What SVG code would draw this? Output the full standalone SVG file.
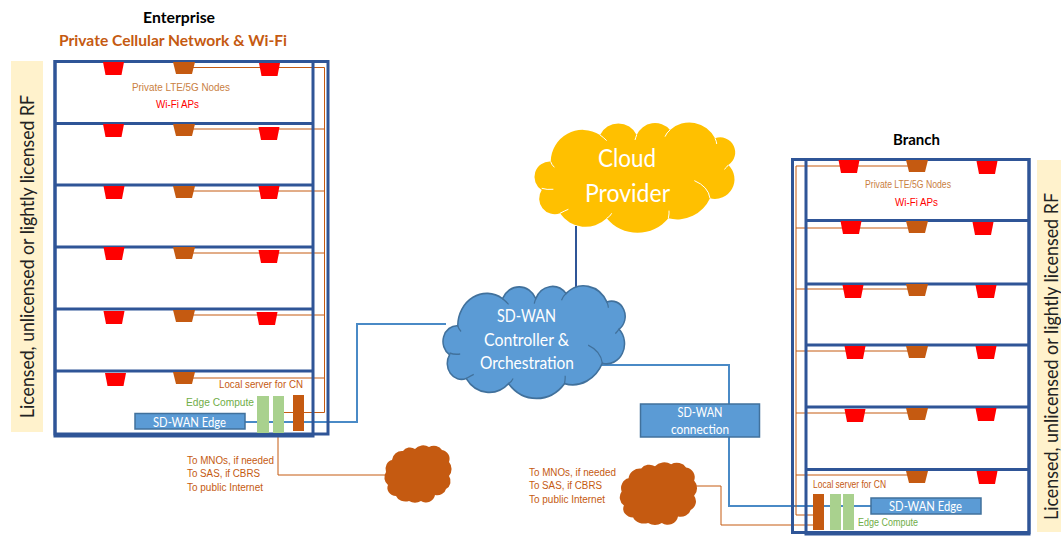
<svg xmlns="http://www.w3.org/2000/svg" width="1061" height="539" viewBox="0 0 1061 539">
<style>
.b{fill:none;stroke:#2f5597;stroke-width:3}
.o{fill:none;stroke:#c55a11;stroke-width:1}
.l{fill:none;stroke:#4a8ac6;stroke-width:2}
.band{fill:#fff2cc}
.box{fill:#5b9bd5;stroke:#41719c;stroke-width:1.5}
.g{fill:#a9d18e}
.srv{fill:#c55a11}
.cal{font-family:"Lato","Open Sans",sans-serif}
.ar{font-family:"Liberation Sans",Arial,sans-serif;font-size:10px}
.or{fill:#c55a11}
.lt{fill:#c9803f}
.rd{fill:#ff0000}
.gr{fill:#70ad47}
.w{fill:#fff}
.rot{font-size:19px;fill:#222}
.c{text-anchor:middle}
</style>
<defs>
<polygon id="tr" class="rd" points="-10.500,0 10.500,0 8,13 -8,13"/>
<polygon id="to" class="or" points="-11,0 11,0 8,12 -8,12"/>
<path id="cloud" d="M57,115 A96,96 0 0 1 205,35 A61,61 0 0 1 315,35 A60,60 0 0 1 415,20 A86,86 0 0 1 550,45 A45,45 0 0 1 590,125 A59,59 0 0 1 535,225 A108,108 0 0 1 410,285 A120,120 0 0 1 225,285 A92,92 0 0 1 85,270 A47,47 0 0 1 30,200 A46,46 0 0 1 57,115 Z"/>
<path id="cloudin" fill="none" d="M30,195 Q45,200 65,198 M57,115 Q60,125 68,132 M205,35 Q215,42 225,52 M315,35 Q312,42 310,50 M415,20 Q405,28 400,40 M550,45 Q555,55 555,62 M590,125 Q585,132 578,138 M488,172 Q530,190 535,225 M410,285 Q413,270 412,262 M225,285 Q235,280 240,270 M85,270 Q100,262 110,258"/>
<path id="blob" d="M30,4 A10,9 0 0 1 44,2 A9,8 0 0 1 57,5 A9,9 0 0 1 64,17 A9,10 0 0 1 64,31 A9,9 0 0 1 61,44 A9,8 0 0 1 50,50 A9,9 0 0 1 36,56 A10,8 0 0 1 24,56 A10,8 0 0 1 11,51 A9,8 0 0 1 3,40 A8,9 0 0 1 1,27 A8,9 0 0 1 7,15 A10,10 0 0 1 18,6 A8,7 0 0 1 30,4 Z"/>
</defs>

<g id="band-left"><rect class="band" x="11" y="61" width="32" height="371"/>
<text class="cal rot c" transform="translate(34,256.500) rotate(-90)" textLength="323" lengthAdjust="spacingAndGlyphs">Licensed, unlicensed or lightly licensed RF</text></g>
<g id="band-right"><rect class="band" x="1037" y="160" width="24" height="372"/>
<text class="cal rot c" transform="translate(1058,356.500) rotate(-90)" textLength="327" lengthAdjust="spacingAndGlyphs">Licensed, unlicensed or lightly licensed RF</text></g>

<g id="connectors">
<path class="o" d="M190,67.500H324.500V412.500H284M190,129H324.500M190,191H324.500M190,253H324.500M190,315H324.500M190,378H324.500"/>
<path class="o" d="M278,431V475H386"/>
<path class="l" d="M245,422H357V324H446"/>
<path d="M576,226V290" fill="none" stroke="#2f5597" stroke-width="2"/>
<path class="l" d="M600,365H729V506H871"/>
<path class="o" d="M917,166H796V515H813M917,228H796M917,289H796M917,351H796M917,413H796M917,475H796"/>
<path class="o" d="M695,486H721V525H813"/>
</g>

<g id="enterprise">
<text class="cal c" x="179" y="23" font-size="16" font-weight="700" fill="#000" textLength="72" lengthAdjust="spacingAndGlyphs">Enterprise</text>
<text class="cal c or" x="173" y="46" font-size="16" font-weight="700" textLength="228" lengthAdjust="spacingAndGlyphs">Private Cellular Network &amp; Wi-Fi</text>
<rect class="b" x="55" y="61.500" width="273" height="372.500"/>
<rect class="b" x="55" y="61.500" width="258" height="374.500"/>
<path class="b" d="M55,123.500H313M55,185H313M55,247H313M55,309H313M55,371H313"/>
<use href="#tr" x="113.500" y="62"/><use href="#to" x="184" y="62"/><use href="#tr" x="269.500" y="63"/>
<use href="#tr" x="113.500" y="124"/><use href="#to" x="184" y="124"/><use href="#tr" x="269" y="127"/>
<use href="#tr" x="114" y="186"/><use href="#to" x="184" y="186"/><use href="#tr" x="269" y="186"/>
<use href="#tr" x="114" y="247"/><use href="#to" x="184" y="247"/><use href="#tr" x="269" y="250"/>
<use href="#tr" x="114" y="311"/><use href="#to" x="184" y="310"/><use href="#tr" x="267" y="312"/>
<use href="#tr" x="115.500" y="373"/><use href="#to" x="184" y="372"/>
<text class="ar lt" x="132" y="91" textLength="98" lengthAdjust="spacingAndGlyphs">Private LTE/5G Nodes</text>
<text class="ar rd" x="156" y="108" textLength="43" lengthAdjust="spacingAndGlyphs">Wi-Fi APs</text>
<text class="ar or" x="219" y="388" textLength="84" lengthAdjust="spacingAndGlyphs">Local server for CN</text>
<text class="ar gr" x="186" y="406" font-size="11" textLength="68" lengthAdjust="spacingAndGlyphs">Edge Compute</text>
<rect class="g" x="257" y="396" width="12" height="37"/>
<rect class="g" x="273" y="396" width="11" height="37"/>
<rect class="srv" x="293" y="395" width="11" height="36"/>
<rect class="box" x="135" y="413.500" width="110" height="15.500"/>
<text class="cal w c" x="189.500" y="427" font-size="13" textLength="73" lengthAdjust="spacingAndGlyphs">SD-WAN Edge</text>
<text class="ar or" x="187" y="464" font-size="11" textLength="87" lengthAdjust="spacingAndGlyphs">To MNOs, if needed</text>
<text class="ar or" x="187" y="477" font-size="11" textLength="73" lengthAdjust="spacingAndGlyphs">To SAS, if CBRS</text>
<text class="ar or" x="187" y="491" font-size="11" textLength="76" lengthAdjust="spacingAndGlyphs">To public Internet</text>
</g>

<g id="branch">
<text class="cal c" x="916.500" y="145" font-size="16" font-weight="700" fill="#000" textLength="47" lengthAdjust="spacingAndGlyphs">Branch</text>
<rect class="b" x="792.500" y="159.500" width="236.500" height="373"/>
<rect class="b" x="806" y="159.500" width="223" height="374.500"/>
<path class="b" d="M806,220.500H1029M806,284H1029M806,345H1029M806,407H1029M806,469.500H1029"/>
<use href="#tr" x="849" y="160"/><use href="#to" x="917" y="160"/><use href="#tr" x="987" y="161"/>
<use href="#tr" x="851" y="221"/><use href="#to" x="917" y="221"/><use href="#tr" x="983" y="222"/>
<use href="#tr" x="853" y="285"/><use href="#to" x="917" y="284"/><use href="#tr" x="986" y="285"/>
<use href="#tr" x="855" y="346"/><use href="#to" x="917" y="346"/><use href="#tr" x="986" y="346"/>
<use href="#tr" x="855" y="409"/><use href="#to" x="917" y="408"/><use href="#tr" x="986" y="408"/>
<use href="#to" x="917" y="471"/><use href="#tr" x="987" y="471"/>
<text class="ar lt" x="865" y="188" font-size="9" textLength="86" lengthAdjust="spacingAndGlyphs">Private LTE/5G Nodes</text>
<text class="ar rd" x="895" y="206" textLength="43" lengthAdjust="spacingAndGlyphs">Wi-Fi APs</text>
<text class="ar or" x="813" y="488" font-size="9" textLength="73" lengthAdjust="spacingAndGlyphs">Local server for CN</text>
<text class="ar gr" x="858" y="526" font-size="9.500" textLength="60" lengthAdjust="spacingAndGlyphs">Edge Compute</text>
<rect class="srv" x="813" y="494" width="11" height="36"/>
<rect class="g" x="830" y="494" width="11" height="36"/>
<rect class="g" x="843" y="494" width="11" height="36"/>
<rect class="box" x="871" y="498" width="110" height="16"/>
<text class="cal w c" x="925.500" y="511" font-size="13" textLength="73" lengthAdjust="spacingAndGlyphs">SD-WAN Edge</text>
<text class="ar or" x="529" y="476" font-size="11" textLength="87" lengthAdjust="spacingAndGlyphs">To MNOs, if needed</text>
<text class="ar or" x="529" y="489" font-size="11" textLength="73" lengthAdjust="spacingAndGlyphs">To SAS, if CBRS</text>
<text class="ar or" x="529" y="503" font-size="11" textLength="76" lengthAdjust="spacingAndGlyphs">To public Internet</text>
</g>

<g id="cloud-provider">
<use href="#cloud" transform="translate(531.700,123.300) scale(.3333)" fill="#ffc000"/>
<use href="#cloudin" transform="translate(531.700,123.300) scale(.3333)" stroke="#fff" stroke-width="3"/>
<text class="cal w c" x="627" y="167" font-size="25" textLength="58" lengthAdjust="spacingAndGlyphs">Cloud</text>
<text class="cal w c" x="627.500" y="202" font-size="25" textLength="85" lengthAdjust="spacingAndGlyphs">Provider</text>
</g>
<g id="sdwan-controller">
<use href="#cloud" transform="translate(440.500,286.700) scale(.3025,.34)" fill="#5b9bd5" stroke="#41719c" stroke-width="5"/>
<use href="#cloudin" transform="translate(440.500,286.700) scale(.3025,.34)" stroke="#41719c" stroke-width="4"/>
<text class="cal w c" x="526.500" y="322" font-size="17" textLength="59" lengthAdjust="spacingAndGlyphs">SD-WAN</text>
<text class="cal w c" x="526.500" y="346" font-size="17" textLength="85" lengthAdjust="spacingAndGlyphs">Controller &amp;</text>
<text class="cal w c" x="527" y="369" font-size="17" textLength="94" lengthAdjust="spacingAndGlyphs">Orchestration</text>
</g>
<g id="sdwan-connection">
<rect class="box" x="640.500" y="404" width="119" height="33"/>
<text class="cal w c" x="700" y="417" font-size="13" textLength="45" lengthAdjust="spacingAndGlyphs">SD-WAN</text>
<text class="cal w c" x="700" y="434" font-size="13" textLength="58" lengthAdjust="spacingAndGlyphs">connection</text>
</g>
<g id="cloud-enterprise"><use href="#blob" transform="translate(385,445)" class="or"/></g>
<g id="cloud-branch"><use href="#blob" transform="translate(620.500,462) scale(1.150,1.090)" class="or"/></g>
</svg>
